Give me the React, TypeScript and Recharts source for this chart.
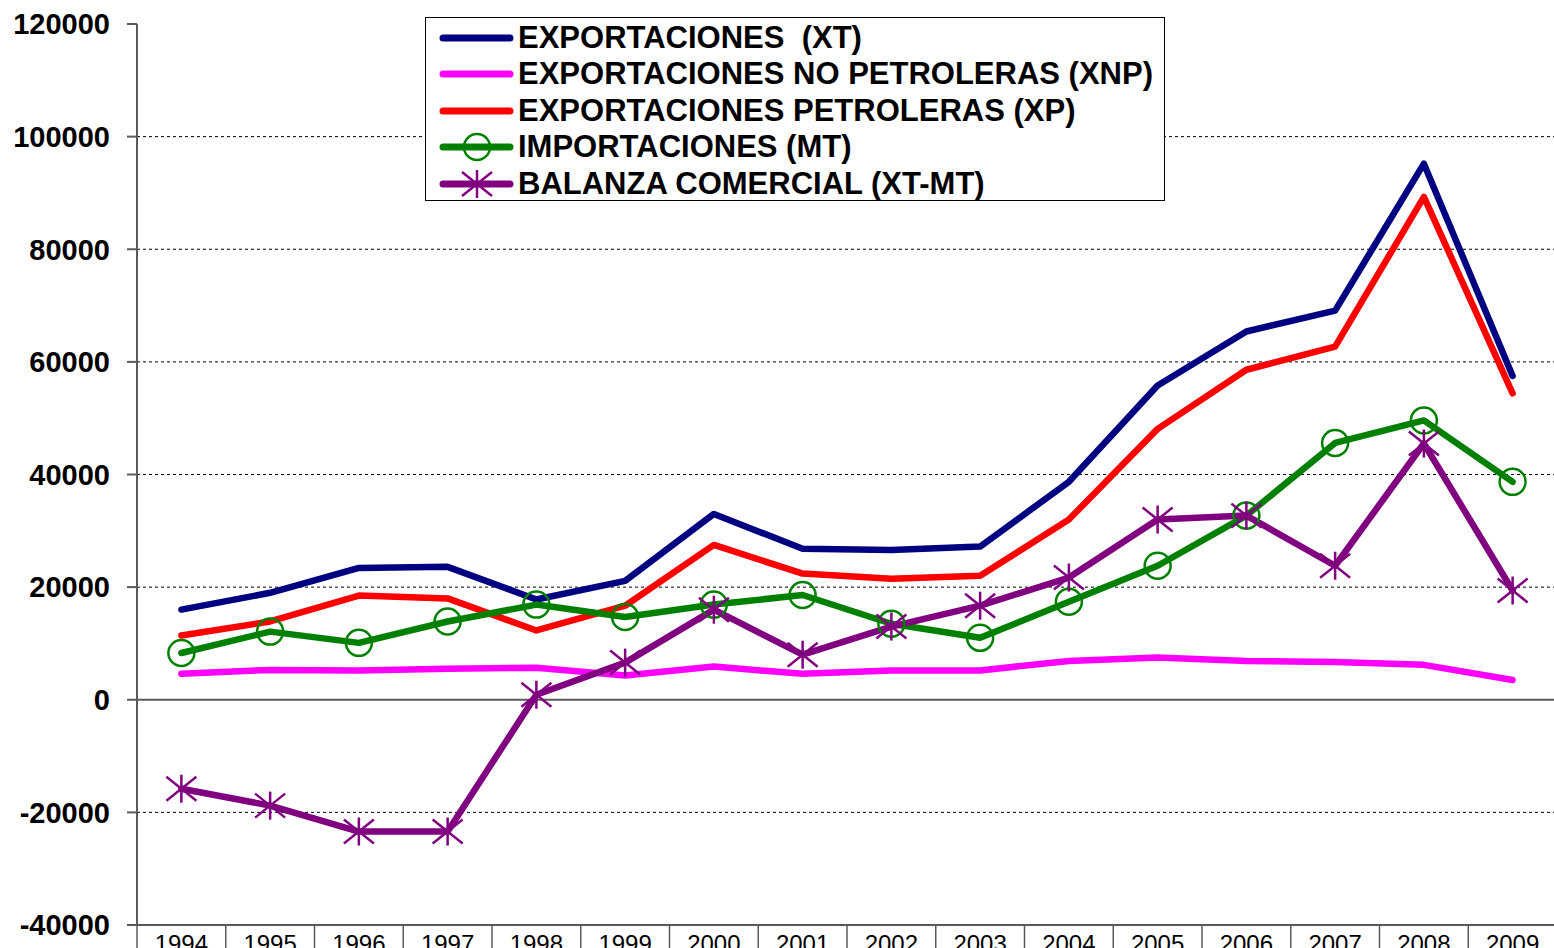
import React from "react";
import {
  Legend,
  Line,
  LineChart,
  ReferenceLine,
  XAxis,
  YAxis,
} from "recharts";

const YEARS = [
  "1994", "1995", "1996", "1997", "1998", "1999", "2000", "2001",
  "2002", "2003", "2004", "2005", "2006", "2007", "2008", "2009",
];

// Exportaciones totales (XT)
const XT = [16000, 19000, 23400, 23600, 17800, 21100, 33000, 26800, 26600, 27200, 38700, 55800, 65400, 69100, 95200, 57500];
// Exportaciones no petroleras (XNP)
const XNP = [4600, 5300, 5200, 5500, 5700, 4300, 5900, 4600, 5200, 5200, 6900, 7500, 6900, 6700, 6200, 3500];
// Exportaciones petroleras (XP)
const XP = [11400, 13900, 18500, 18000, 12300, 16700, 27500, 22400, 21500, 22000, 32000, 48100, 58600, 62700, 89300, 54400];
// Importaciones (MT)
const MT = [8300, 12100, 10100, 13900, 16900, 14700, 16900, 18600, 13500, 11000, 17400, 23800, 32700, 45600, 49600, 38700];
// Balanza comercial (XT-MT)
const BAL = [-15800, -18800, -23400, -23400, 900, 6600, 16000, 8000, 13000, 16700, 21700, 32000, 32700, 23800, 45500, 19400];

const Y_TICKS = [-40000, -20000, 0, 20000, 40000, 60000, 80000, 100000, 120000];
const GRID_VALUES = [-20000, 20000, 40000, 60000, 80000, 100000];

const SERIES = [
  { key: "xt", name: "EXPORTACIONES  (XT)", color: "#000080", marker: "none" },
  { key: "xnp", name: "EXPORTACIONES NO PETROLERAS (XNP)", color: "#FF00FF", marker: "none" },
  { key: "xp", name: "EXPORTACIONES PETROLERAS (XP)", color: "#FF0000", marker: "none" },
  { key: "mt", name: "IMPORTACIONES (MT)", color: "#008000", marker: "circle" },
  { key: "bal", name: "BALANZA COMERCIAL (XT-MT)", color: "#800080", marker: "star" },
];

const data = YEARS.map((year, i) => ({
  year,
  xt: XT[i],
  xnp: XNP[i],
  xp: XP[i],
  mt: MT[i],
  bal: BAL[i],
}));

const AXIS = "#5a5a5a";
const FONT = "'Liberation Sans', Arial, sans-serif";
const BAND = (1557 - 137) / YEARS.length;

function Marker({ type, cx, cy, color }: { type: string; cx: number; cy: number; color: string }) {
  if (type === "circle")
    return <circle cx={cx} cy={cy} r={13} fill="none" stroke={color} strokeWidth={2.5} />;
  if (type === "star")
    return (
      <g stroke={color} strokeWidth={2.5}>
        <line x1={cx} y1={cy - 14} x2={cx} y2={cy + 14} />
        <line x1={cx - 15} y1={cy - 12} x2={cx + 15} y2={cy + 12} />
        <line x1={cx - 15} y1={cy + 12} x2={cx + 15} y2={cy - 12} />
      </g>
    );
  return null;
}

function YearTick(props: any) {
  const { x, y, payload, index } = props;
  const half = BAND / 2;
  return (
    <g>
      <line x1={x - half} x2={x - half} y1={y} y2={y + 40} stroke={AXIS} strokeWidth={1.5} />
      {index === YEARS.length - 1 && (
        <line x1={x + half} x2={x + half} y1={y} y2={y + 40} stroke={AXIS} strokeWidth={1.5} />
      )}
      <text x={x} y={y + 27} textAnchor="middle" fontSize={24} fontFamily={FONT} fill="#000">
        {payload.value}
      </text>
    </g>
  );
}

function LegendBox() {
  return (
    <div
      style={{
        width: 740,
        height: 184,
        boxSizing: "border-box",
        border: "1px solid #000",
        background: "#fff",
        paddingTop: 1.5,
      }}
    >
      {SERIES.map((s) => (
        <div key={s.key} style={{ display: "flex", alignItems: "center", height: 36.5 }}>
          <svg width={92} height={36} style={{ flex: "none" }}>
            <line x1={17} x2={84} y1={18} y2={18} stroke={s.color} strokeWidth={7} strokeLinecap="round" />
            <Marker type={s.marker} cx={51} cy={18} color={s.color} />
          </svg>
          <span
            style={{
              fontFamily: FONT,
              fontWeight: "bold",
              fontSize: 31,
              color: "#000",
              whiteSpace: "pre",
              lineHeight: "36px",
            }}
          >
            {s.name}
          </span>
        </div>
      ))}
    </div>
  );
}

export default function App() {
  return (
    <div
      style={{
        position: "fixed",
        left: 0,
        top: 0,
        width: 1554,
        height: 948,
        overflow: "hidden",
        background: "#fff",
      }}
    >
      <LineChart
        width={1560}
        height={960}
        data={data}
        margin={{ top: 24, right: 3, bottom: 0, left: 0 }}
      >
        <XAxis
          dataKey="year"
          scale="band"
          interval={0}
          height={35}
          tickSize={0}
          tickMargin={0}
          tickLine={false}
          axisLine={{ stroke: AXIS, strokeWidth: 2 }}
          tick={<YearTick />}
        />
        <YAxis
          type="number"
          domain={[-40000, 120000]}
          ticks={Y_TICKS}
          interval={0}
          width={137}
          tickSize={10}
          tickMargin={17}
          axisLine={{ stroke: AXIS, strokeWidth: 2 }}
          tickLine={{ stroke: AXIS, strokeWidth: 2 }}
          tick={{ fill: "#000", fontSize: 29, fontWeight: "bold", fontFamily: FONT }}
        />
        {GRID_VALUES.map((v) => (
          <ReferenceLine key={v} y={v} stroke="#000" strokeWidth={1} strokeDasharray="3 3" />
        ))}
        <ReferenceLine y={0} stroke={AXIS} strokeWidth={2} />
        <Legend
          layout="vertical"
          align="center"
          verticalAlign="middle"
          wrapperStyle={{ left: 425, top: 17, width: 740 }}
          content={() => <LegendBox />}
        />
        {SERIES.map((s) => (
          <Line
            key={s.key}
            dataKey={s.key}
            name={s.name}
            type="linear"
            stroke={s.color}
            strokeWidth={6.5}
            strokeLinecap="round"
            strokeLinejoin="round"
            dot={
              s.marker === "none"
                ? false
                : (p: any) => <Marker key={p.index} type={s.marker} cx={p.cx} cy={p.cy} color={s.color} />
            }
            activeDot={false}
            isAnimationActive={false}
          />
        ))}
      </LineChart>
    </div>
  );
}
